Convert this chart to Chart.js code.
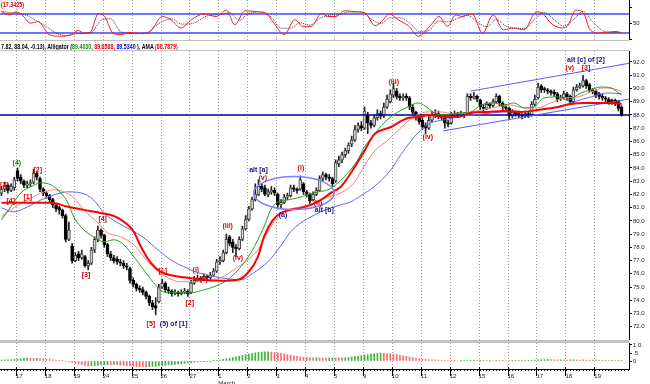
<!DOCTYPE html>
<html lang="en">
<head>
<meta charset="UTF-8">
<title>Alligator / AMA chart</title>
<script src="https://cdn.jsdelivr.net/npm/chart.js"></script>
<style>
  html, body { margin: 0; background: #fff; overflow: hidden; }
  #wrap { position: relative; width: 650px; height: 384px; overflow: hidden; font-family: "Liberation Sans", Arial, sans-serif; }
  canvas { position: absolute; left: 0; }
  .sep { position: absolute; left: 0; width: 629px; background: #c2c2c2; }
  .txt { position: absolute; left: 1px; font-weight: bold; font-size: 7px; line-height: 7px; white-space: nowrap; transform-origin: 0 0; }
</style>
</head>
<body>
<div id="wrap">
  <canvas id="stoch" width="650" height="40" style="top:0"></canvas>
  <div class="sep" style="top:40px;height:1px"></div>
  <div class="txt" id="stochTitle" style="top:1px;color:#e00000">(17.3425)</div>
  <div class="txt" id="legendRow" style="top:43px;color:#000">7.82, 88.04, -0.13), Alligator (<span style="color:#109010">89.4030,</span> <span style="color:#e00000">89.6588,</span> <span style="color:#0000d0">89.5340</span> ), AMA <span style="color:#e00000">(88.7879)</span></div>
  <div class="sep" style="top:50px;height:1px"></div>
  <canvas id="main" width="650" height="289" style="top:51px"></canvas>
  <div class="sep" style="top:340px;height:3px"></div>
  <canvas id="ao" width="650" height="41" style="top:343px"></canvas>
</div>

<script>
// time axis: 9 bars per session, first labelled session starts at bar 5
const dayLabels = ['17', '18', '19', '24', '25', '26', '27', '1', '2', '3', '4', '5', '9', '10', '11', '12', '15', '16', '17', '18', '19'];
const monthName = 'March';
const monthStartDay = 7;
const firstDayBar = 5;
const barsPerDay = 9;

const opens = [
  82.1, 82.4, 82.7, 82.3, 82.5, 83.8, 83.3, 83.0, 82.7, 82.8,
  82.9, 83.6, 83.2, 82.4, 82.1, 81.9, 81.6, 81.2, 81.0, 80.8,
  80.4, 78.6, 78.1, 77.0, 77.5, 77.2, 77.3, 76.6, 76.8, 77.8,
  78.6, 79.3, 78.9, 78.2, 77.5, 77.2, 77.1, 76.9, 76.8, 76.6,
  76.4, 75.5, 75.2, 74.9, 74.8, 74.6, 74.3, 73.8, 73.6, 73.9,
  75.0, 75.3, 74.8, 74.7, 74.5, 74.6, 74.5, 74.6, 74.7, 74.6,
  75.3, 75.5, 75.7, 75.6, 75.8, 75.7, 75.9, 76.2, 76.9, 77.0,
  77.6, 78.8, 78.4, 78.0, 77.9, 78.6, 79.4, 80.1, 80.9, 81.6,
  82.0, 82.6, 82.5, 82.0, 82.2, 82.3, 82.0, 81.2, 81.4, 81.8,
  81.9, 82.5, 82.4, 82.4, 82.8, 82.2, 82.0, 81.6, 82.0, 82.3,
  83.2, 83.5, 83.3, 83.2, 83.0, 84.3, 84.6, 85.0, 85.3, 85.8,
  86.1, 86.9, 87.2, 87.0, 88.0, 87.4, 87.2, 87.8, 88.1, 87.9,
  88.6, 89.0, 89.5, 89.8, 89.4, 89.3, 89.4, 89.3, 88.6, 88.2,
  87.8, 87.6, 87.2, 87.0, 87.6, 88.0, 88.1, 87.9, 87.9, 87.4,
  87.4, 88.0, 88.1, 88.0, 88.1, 88.1, 89.4, 89.3, 89.4, 89.1,
  88.6, 88.5, 88.8, 88.7, 89.0, 89.4, 88.9, 88.6, 88.5, 87.9,
  88.2, 88.1, 88.0, 87.9, 88.1, 88.0, 88.8, 89.3, 90.2, 90.0,
  89.9, 89.8, 89.7, 89.6, 89.2, 89.3, 89.6, 89.4, 89.0, 89.9,
  90.1, 90.2, 90.6, 90.3, 89.9, 89.8, 89.6, 89.4, 89.3, 89.2,
  89.1, 89.1, 89.0, 88.6
];
const highs = [
  82.6, 82.9, 82.8, 82.8, 83.3, 84.0, 83.5, 83.1, 83.0, 83.1,
  83.9, 83.7, 83.3, 82.5, 82.2, 82.0, 81.7, 81.3, 81.1, 80.9,
  80.5, 79.9, 78.3, 77.6, 77.7, 77.8, 77.4, 77.0, 78.0, 78.8,
  79.6, 79.4, 79.0, 78.3, 77.7, 77.4, 77.3, 77.1, 77.0, 76.8,
  76.5, 75.7, 75.3, 75.1, 75.0, 74.7, 74.4, 74.0, 74.2, 75.2,
  75.6, 75.4, 75.0, 74.8, 74.8, 74.7, 74.8, 74.9, 74.8, 75.5,
  75.8, 75.9, 75.8, 76.0, 75.9, 76.1, 76.4, 77.1, 77.3, 77.8,
  79.0, 78.9, 78.6, 78.2, 78.8, 79.6, 80.4, 81.1, 81.8, 82.8,
  83.1, 82.8, 82.7, 82.4, 82.6, 82.5, 82.1, 81.6, 82.0, 82.1,
  82.7, 82.7, 82.5, 83.4, 82.9, 82.3, 82.1, 82.2, 82.5, 83.4,
  83.7, 83.6, 83.5, 83.3, 84.6, 84.9, 85.2, 85.5, 85.9, 86.4,
  87.2, 87.4, 87.5, 88.6, 88.2, 87.6, 88.0, 88.4, 88.3, 88.9,
  89.5, 89.9, 90.4, 90.0, 89.6, 89.6, 89.6, 89.4, 88.8, 88.3,
  87.9, 87.8, 87.4, 87.9, 88.3, 88.4, 88.3, 88.0, 88.0, 87.6,
  88.2, 88.3, 88.2, 88.3, 88.2, 89.6, 89.6, 89.7, 89.5, 89.2,
  88.8, 89.0, 88.9, 89.2, 89.6, 89.5, 89.0, 88.8, 88.6, 88.4,
  88.3, 88.3, 88.1, 88.3, 88.2, 89.0, 89.5, 90.4, 90.3, 90.1,
  90.0, 89.9, 89.9, 89.7, 89.5, 89.8, 89.7, 89.5, 90.1, 90.3,
  90.4, 91.0, 90.7, 90.4, 90.0, 89.9, 89.7, 89.6, 89.4, 89.3,
  89.2, 89.2, 89.1, 88.7
];
const lows = [
  81.9, 82.2, 82.1, 82.2, 82.3, 83.0, 82.8, 82.5, 82.5, 82.6,
  82.8, 83.1, 82.2, 81.9, 81.7, 81.4, 81.0, 80.7, 80.5, 80.2,
  78.4, 78.5, 76.8, 76.9, 77.0, 77.1, 76.5, 76.3, 76.7, 77.6,
  78.4, 78.7, 78.0, 77.3, 77.0, 76.8, 76.7, 76.6, 76.4, 76.3,
  75.3, 75.0, 74.7, 74.6, 74.4, 74.1, 73.6, 73.3, 72.9, 73.8,
  74.9, 74.6, 74.5, 74.3, 74.4, 74.3, 74.4, 74.5, 74.3, 74.5,
  75.2, 75.4, 75.4, 75.5, 75.5, 75.6, 75.8, 76.1, 76.7, 76.9,
  77.5, 78.1, 77.6, 77.3, 77.8, 78.5, 79.3, 80.0, 80.8, 81.5,
  81.9, 82.2, 81.9, 81.8, 82.0, 81.9, 80.9, 81.0, 81.3, 81.6,
  81.8, 82.2, 82.1, 82.3, 82.0, 81.8, 81.3, 81.5, 81.9, 82.2,
  83.0, 83.1, 83.0, 82.6, 82.9, 84.1, 84.4, 84.8, 85.1, 85.6,
  86.0, 86.7, 86.8, 86.9, 86.6, 87.0, 87.1, 87.6, 87.7, 87.8,
  88.5, 88.9, 89.3, 89.2, 89.1, 89.1, 89.1, 88.4, 88.0, 87.6,
  87.3, 86.9, 86.6, 86.9, 87.5, 87.8, 87.7, 87.6, 87.0, 87.1,
  87.3, 87.9, 87.8, 87.9, 87.8, 88.0, 89.1, 89.2, 89.0, 88.4,
  88.3, 88.4, 88.5, 88.6, 88.9, 88.7, 88.4, 88.3, 87.7, 87.8,
  87.9, 87.8, 87.7, 87.8, 87.8, 87.9, 88.7, 89.2, 89.7, 89.7,
  89.6, 89.5, 89.4, 89.0, 89.1, 89.2, 89.1, 88.8, 88.9, 89.8,
  90.0, 90.1, 90.0, 89.7, 89.6, 89.3, 89.2, 89.1, 89.0, 88.8,
  88.8, 88.7, 88.3, 87.9
];
const closes = [
  82.4, 82.7, 82.3, 82.6, 83.1, 83.2, 83.0, 82.7, 82.8, 82.9,
  83.6, 83.3, 82.4, 82.1, 81.9, 81.6, 81.2, 80.9, 80.8, 80.4,
  78.6, 79.3, 77.0, 77.4, 77.2, 77.5, 76.6, 76.8, 77.8, 78.6,
  79.3, 78.9, 78.2, 77.5, 77.2, 77.0, 76.9, 76.8, 76.6, 76.5,
  75.5, 75.2, 74.9, 74.8, 74.6, 74.3, 73.8, 73.5, 73.4, 75.0,
  75.3, 74.8, 74.7, 74.5, 74.6, 74.5, 74.6, 74.7, 74.5, 75.3,
  75.5, 75.7, 75.6, 75.8, 75.7, 75.9, 76.2, 76.9, 77.0, 77.6,
  78.6, 78.3, 78.0, 77.9, 78.6, 79.4, 80.1, 80.9, 81.6, 82.0,
  82.6, 82.4, 82.0, 82.2, 82.3, 82.1, 81.2, 81.4, 81.8, 81.9,
  82.5, 82.4, 82.3, 83.1, 82.2, 82.0, 81.5, 82.0, 82.3, 83.2,
  83.5, 83.3, 83.2, 82.8, 84.4, 84.6, 85.0, 85.3, 85.7, 86.1,
  86.9, 87.2, 87.0, 88.3, 87.4, 87.2, 87.8, 88.1, 87.9, 88.6,
  89.2, 89.6, 90.0, 89.4, 89.3, 89.4, 89.3, 88.6, 88.2, 87.8,
  87.5, 87.1, 87.0, 87.6, 88.0, 88.1, 87.9, 87.8, 87.4, 87.3,
  88.0, 88.1, 88.0, 88.1, 88.0, 89.4, 89.3, 89.4, 89.2, 88.6,
  88.5, 88.8, 88.7, 89.0, 89.4, 88.9, 88.6, 88.5, 87.9, 88.2,
  88.1, 88.0, 87.9, 88.1, 88.0, 88.8, 89.2, 90.1, 89.9, 89.9,
  89.8, 89.7, 89.6, 89.2, 89.3, 89.6, 89.3, 89.0, 89.9, 90.1,
  90.2, 90.6, 90.2, 89.9, 89.8, 89.5, 89.4, 89.3, 89.2, 89.0,
  89.0, 88.9, 88.5, 88.0
];

// indicator lines, [bar, value]
const ama = [
  [0, 81.36], [10, 81.36], [15.4, 81.36], [20.7, 81.06], [25.6, 80.83], [30.9, 80.6], [36.2, 80.23],
  [41.2, 79.17], [43.4, 78.04], [46.5, 76.83], [49.6, 76.15], [53.6, 75.85], [58, 75.7], [62, 75.55],
  [68.3, 75.47], [73.6, 75.55], [76.7, 76.08], [79.8, 77.28], [81.7, 78.79], [84.5, 80.08], [87, 80.6],
  [90, 80.83], [93.2, 80.98], [96.3, 81.21], [99.4, 81.58], [102.5, 82.11], [105.6, 82.57], [108.7, 83.6],
  [112.8, 85.21], [115.9, 86.49], [121.2, 87.09], [126.5, 87.77], [129.6, 87.85], [133.6, 88.0],
  [137.7, 87.85], [142, 87.85], [146.1, 88.15], [151.4, 88.23], [156.3, 88.3], [161.6, 88.23],
  [167, 88.38], [173.2, 88.6], [177.2, 88.83], [181.3, 88.91], [186.5, 88.91], [190.6, 88.91], [193, 88.83]
];
const lips = [
  [0, 80.08], [2.9, 81.06], [6, 82.11], [9.1, 82.57], [12.3, 82.87], [15.4, 82.72], [18.5, 82.11],
  [20.7, 81.36], [22.5, 80.3], [25.6, 79.32], [28.7, 78.79], [31.9, 78.42], [35, 78.57], [38.1, 78.19],
  [41.2, 77.28], [44.3, 76.3], [47.4, 75.32], [50.5, 74.64], [54.9, 74.57], [58.9, 74.57], [63, 74.79],
  [66.1, 75.02], [70.4, 75.55], [74.5, 76.53], [77.6, 77.58], [79.8, 78.57], [81.7, 79.55], [83.8, 80.83],
  [86, 81.43], [89.1, 81.58], [92.2, 81.74], [95.3, 81.96], [98.5, 82.19], [101.6, 82.34], [104.7, 82.87],
  [107.8, 83.62], [110.9, 84.6], [112.8, 85.51], [115.9, 86.49], [119, 87.4], [123.4, 88.23], [126.5, 88.6],
  [129.6, 88.91], [132.7, 88.53], [134.6, 88.15], [137.7, 88.0], [142, 88.15], [146.1, 88.23], [149.2, 88.75],
  [153.2, 88.91], [156.3, 88.75], [159.5, 88.91], [162.6, 88.53], [165.7, 88.6], [168.8, 89.28],
  [173.2, 89.36], [176.3, 89.13], [180.3, 89.66], [183.4, 89.89], [186.5, 90.11], [189.7, 90.04], [193, 89.5]
];
const teeth = [
  [0, 80.3], [3.8, 80.98], [8.2, 81.58], [12.3, 82.11], [16.3, 82.34], [19.4, 82.19], [22.5, 81.74],
  [25.6, 80.83], [30, 79.85], [33.1, 79.09], [37.1, 78.79], [41.2, 78.19], [44.3, 77.28], [47.4, 76.45],
  [51.8, 75.7], [55.8, 75.4], [59.9, 75.4], [64.2, 75.55], [68.3, 75.7], [72.3, 76.3], [76.7, 77.06],
  [79.8, 77.81], [82.9, 79.17], [86, 80.3], [89.1, 80.83], [93.2, 81.06], [97.2, 81.36], [101.6, 81.81],
  [105.6, 82.11], [109.7, 82.87], [111.8, 83.7], [115.9, 85.21], [120.3, 86.11], [124.3, 87.02],
  [128.3, 87.85], [132.7, 88.23], [136.7, 88.23], [140.8, 88.08], [145.1, 88.15], [149.2, 88.38],
  [154.5, 88.6], [158.5, 88.75], [162.6, 88.53], [167, 88.53], [171, 88.91], [175, 89.28], [179.4, 89.36],
  [183.4, 89.74], [187.5, 90.04], [191.8, 89.89], [193, 89.75]
];
const jaw = [
  [0, 80.98], [3.8, 80.68], [8.2, 81.06], [12.3, 81.58], [16.3, 81.96], [20.7, 82.19], [24.7, 82.11],
  [28.7, 81.58], [31.9, 80.6], [36.2, 79.85], [40.3, 79.32], [44.3, 78.72], [48.7, 77.81], [52.7, 77.06],
  [56.8, 76.53], [61.1, 76.08], [65.2, 75.85], [68.3, 75.7], [74.5, 75.55], [78.5, 76.08], [82.9, 76.91],
  [86.9, 78.11], [90, 79.17], [93.2, 79.85], [96.3, 80.3], [99.4, 80.68], [102.5, 80.98], [105.6, 81.21],
  [108.7, 81.43], [111.8, 81.89], [115.9, 82.57], [121.2, 83.85], [124.3, 85.0], [129.6, 86.64],
  [133.6, 87.4], [137.7, 87.62], [142, 87.85], [147, 88.0], [152.3, 88.15], [157.6, 88.23], [162.6, 88.23],
  [167, 88.38], [173.2, 88.6], [178.1, 88.98], [183.4, 89.36], [188.7, 89.66], [193, 89.6]
];

// drawn objects on the price panel
const supportLevel = 88.0;
const channelUpper = [[146, 89.8], [195.3, 91.9]];
const channelLower = [[137.5, 86.8], [195.3, 89.2]];
const ellipseCenter = [91, 82.1];
const ellipseRadius = [12.5, 1.25];
const waveLabels = [
  { t: '[3]', i: 0.9, p: 82.72, k: 'wave' },
  { t: '[4]', i: 2.9, p: 81.5, k: 'wave' },
  { t: '(4)', i: 4.8, p: 84.38, k: 'major' },
  { t: '[1]', i: 8.2, p: 81.8, k: 'wave' },
  { t: '[2]', i: 11.3, p: 83.85, k: 'wave' },
  { t: '[3]', i: 26.3, p: 75.9, k: 'wave' },
  { t: '[4]', i: 31.5, p: 80.15, k: 'wave' },
  { t: '[5]', i: 46.5, p: 72.2, k: 'wave' },
  { t: '(5) of [1]', i: 53.6, p: 72.2, k: 'alt' },
  { t: '[1]', i: 50.2, p: 76.2, k: 'wave' },
  { t: '[2]', i: 58.6, p: 73.8, k: 'wave' },
  { t: '(i)', i: 60.5, p: 76.3, k: 'wave' },
  { t: '(ii)', i: 63, p: 75.6, k: 'wave' },
  { t: '(iii)', i: 70.4, p: 79.6, k: 'wave' },
  { t: '(iv)', i: 73.6, p: 77.2, k: 'wave' },
  { t: 'alt [a]', i: 80, p: 83.8, k: 'alt' },
  { t: '(v)', i: 81.3, p: 83.2, k: 'wave' },
  { t: '(a)', i: 87.6, p: 80.45, k: 'alt' },
  { t: '(i)', i: 93.2, p: 84.0, k: 'wave' },
  { t: '(ii)', i: 98.5, p: 81.36, k: 'wave' },
  { t: 'alt [b]', i: 100.5, p: 80.85, k: 'alt' },
  { t: '(iii)', i: 122.1, p: 90.5, k: 'wave' },
  { t: '(iv)', i: 132.7, p: 86.3, k: 'wave' },
  { t: 'alt [c] of [2]', i: 181.9, p: 92.15, k: 'alt' },
  { t: '(v)', i: 176.9, p: 91.55, k: 'wave' },
  { t: '[3]', i: 181.9, p: 91.55, k: 'wave' }
];
const priceTicks = [
  72.0, 72.5, 73.0, 73.5, 74.0, 74.5, 75.0, 75.5, 76.0, 76.5, 77.0, 77.5, 78.0, 78.5,
  79.0, 79.5, 80.0, 80.5, 81.0, 81.5, 82.0, 82.5, 83.0, 83.5, 84.0, 84.5, 85.0, 85.5,
  86.0, 86.5, 87.0, 87.5, 88.0, 88.5, 89.0, 89.5, 90.0, 90.5, 91.0, 91.5, 92.0
];

// stochastic panel
const stochK = [
  [0, 87], [2.6, 77], [4.5, 87], [6.4, 77], [9, 51], [11.6, 56], [12.9, 41], [14.8, 15], [18, 10],
  [21.9, 15], [23.8, 28], [25.7, 20], [27.6, 22], [30.2, 82], [32.1, 72], [34.7, 20], [37.3, 15],
  [39.8, 22], [43.7, 18], [46.3, 25], [50.1, 72], [52.7, 62], [55.9, 36], [59.1, 62], [63, 80],
  [66.8, 72], [70, 92], [72.6, 46], [75.8, 90], [79.7, 87], [82.3, 82], [84.8, 51], [88, 15],
  [91.3, 62], [93.8, 41], [96.4, 41], [99.6, 82], [101.5, 72], [104.1, 72], [106.7, 90], [110.5, 87],
  [113.1, 84], [116.3, 43], [118.3, 56], [120.8, 80], [123.4, 62], [126.6, 43], [129.8, 10],
  [133.7, 46], [136.2, 72], [138.8, 41], [141.4, 77], [143.3, 72], [146.5, 80], [149.7, 20], [153, 77],
  [156.2, 30], [159.4, 36], [162.6, 30], [166.5, 87], [168.4, 82], [171, 51], [174.2, 36], [176.1, 41],
  [178.7, 92], [181.2, 82], [183.2, 30], [186.4, 20], [188.9, 23], [191.5, 25], [192.8, 20]
];
const stochD = [
  [0, 88], [2, 85], [5, 82], [8, 75], [11, 58], [14, 40], [17, 20], [20, 12], [24, 18], [28, 22],
  [31, 60], [34, 65], [37, 25], [41, 18], [45, 20], [49, 50], [53, 65], [56, 48], [60, 52], [64, 74],
  [68, 78], [71, 84], [74, 60], [77, 82], [81, 86], [84, 70], [87, 35], [90, 35], [93, 52], [96, 45],
  [99, 65], [102, 76], [105, 78], [108, 86], [112, 86], [115, 65], [118, 50], [121, 68], [124, 68],
  [127, 52], [130, 25], [133, 28], [136, 58], [139, 55], [142, 66], [145, 76], [148, 55], [151, 40],
  [154, 62], [157, 42], [160, 35], [163, 35], [166, 65], [169, 85], [172, 62], [175, 42], [178, 62],
  [181, 88], [184, 55], [187, 28], [190, 22], [193, 22]
];
const stochLevels = [20, 80];
const stochTicks = [0, 50, 100];

// awesome oscillator histogram, one value per bar
const aoValues = [
  0.06, 0.07, 0.07, 0.08, 0.10, 0.12, 0.14, 0.16, 0.18, 0.17,
  0.16, 0.16, 0.15, 0.14, 0.12, 0.10, 0.08, 0.06, 0.04, 0.02,
  -0.02, -0.06, -0.10, -0.14, -0.18, -0.22, -0.27, -0.31, -0.30, -0.29,
  -0.27, -0.25, -0.24, -0.23, -0.24, -0.22, -0.23, -0.25, -0.27, -0.29,
  -0.31, -0.33, -0.35, -0.36, -0.37, -0.38, -0.36, -0.34, -0.33, -0.31,
  -0.29, -0.27, -0.25, -0.23, -0.21, -0.19, -0.17, -0.15, -0.12, -0.10,
  -0.08, -0.06, -0.05, -0.04, -0.02, -0.01, 0.01, 0.03, 0.06, 0.10,
  0.14, 0.18, 0.22, 0.26, 0.30, 0.35, 0.40, 0.44, 0.48, 0.51,
  0.54, 0.56, 0.57, 0.58, 0.56, 0.54, 0.51, 0.48, 0.44, 0.40,
  0.36, 0.32, 0.29, 0.26, 0.24, 0.22, 0.21, 0.20, 0.21, 0.20,
  0.19, 0.18, 0.19, 0.20, 0.19, 0.18, 0.19, 0.20, 0.22, 0.25,
  0.28, 0.31, 0.34, 0.37, 0.40, 0.43, 0.46, 0.48, 0.50, 0.49,
  0.47, 0.45, 0.43, 0.40, 0.37, 0.33, 0.29, 0.25, 0.21, 0.17,
  0.14, 0.12, 0.10, 0.09, 0.08, 0.07, 0.06, 0.05, 0.04, 0.03,
  0.02, 0.01, 0.00, 0.01, 0.02, 0.03, 0.04, 0.05, 0.04, 0.05,
  0.04, 0.03, 0.04, 0.03, 0.04, 0.03, 0.02, 0.03, 0.02, 0.01,
  0.02, 0.01, 0.02, 0.03, 0.04, 0.05, 0.06, 0.07, 0.08, 0.09,
  0.10, 0.09, 0.08, 0.07, 0.08, 0.07, 0.06, 0.07, 0.08, 0.07,
  0.06, 0.07, 0.06, 0.05, 0.06, 0.05, 0.04, 0.05, 0.04, 0.03,
  0.04, 0.03, 0.02, 0.02
];
const aoTicks = [0, 0.5, 1];

// ---------------------------------------------------------------

Chart.defaults.font.family = '"Liberation Sans", Arial, sans-serif';
Chart.defaults.font.size = 6;
Chart.defaults.color = '#222';
Chart.defaults.animation = false;
Chart.defaults.plugins.legend.display = false;
Chart.defaults.plugins.tooltip.enabled = false;

const X_MIN = -0.45, X_MAX = 195.3;
const dayStart = d => firstDayBar - 0.5 + d * barsPerDay;
const pts = arr => arr.map(([x, y]) => ({ x, y }));

function fitText(id, w) {
  const el = document.getElementById(id);
  el.style.transform = 'scaleX(' + (w / el.offsetWidth) + ')';
}
fitText('legendRow', 177);
fitText('stochTitle', 23);

function xAxis(visible) {
  return {
    type: 'linear', min: X_MIN, max: X_MAX, offset: false, display: visible,
    afterBuildTicks: s => {
      const t = [];
      for (let k = 0; k < 196; k++) t.push({ value: k - 0.5 });
      s.ticks = t;
    },
    afterFit: s => {
      s.paddingLeft = 0;
      s.paddingRight = 0;
      if (visible) s.height = 15;
    },
    grid: { drawOnChartArea: false, tickLength: 2, color: '#000', tickColor: '#000' },
    border: { display: true, color: '#000' },
    ticks: {
      autoSkip: false, maxRotation: 0, minRotation: 0, align: 'start', padding: 2,
      font: { size: 6 }, color: '#222',
      callback: v => {
        const d = Math.round((v - dayStart(0)) / barsPerDay);
        if (d < 0 || d >= dayLabels.length || Math.abs(v - dayStart(d)) > 0.01) return '';
        return d === monthStartDay ? [dayLabels[d], monthName] : dayLabels[d];
      }
    }
  };
}

function yAxis(min, max, ticks, fmt) {
  return {
    position: 'right', min, max,
    afterBuildTicks: s => { s.ticks = ticks.map(v => ({ value: v })); },
    afterFit: s => { s.width = 21; s.paddingTop = 0; s.paddingBottom = 0; },
    grid: { drawOnChartArea: false, tickLength: 3, tickColor: '#000' },
    border: { display: true, color: '#000' },
    ticks: { padding: 1, font: { size: 6 }, color: '#222', callback: fmt }
  };
}

const dayLines = {
  id: 'dayLines',
  beforeDatasetsDraw(chart) {
    const { ctx, chartArea: a, scales: { x } } = chart;
    ctx.save();
    ctx.strokeStyle = '#a0a0a0';
    ctx.lineWidth = 1;
    ctx.setLineDash([1, 2]);
    dayLabels.forEach((_, d) => {
      const px = Math.round(x.getPixelForValue(dayStart(d))) + 0.5;
      ctx.beginPath();
      ctx.moveTo(px, a.top);
      ctx.lineTo(px, a.bottom);
      ctx.stroke();
    });
    ctx.restore();
  }
};

const labelColors = { wave: '#e00000', major: '#108010', alt: '#101090' };
const priceMarks = {
  id: 'priceMarks',
  afterDatasetsDraw(chart) {
    const { ctx, scales: { x, y } } = chart;
    ctx.save();
    const cx = x.getPixelForValue(ellipseCenter[0]);
    const cy = y.getPixelForValue(ellipseCenter[1]);
    const rx = x.getPixelForValue(ellipseCenter[0] + ellipseRadius[0]) - cx;
    const ry = cy - y.getPixelForValue(ellipseCenter[1] + ellipseRadius[1]);
    ctx.strokeStyle = '#8080ff';
    ctx.lineWidth = 1.5;
    ctx.beginPath();
    ctx.ellipse(cx, cy, rx, ry, 0, 0, Math.PI * 2);
    ctx.stroke();
    ctx.font = 'bold 7px "Liberation Sans", Arial, sans-serif';
    ctx.textAlign = 'center';
    ctx.textBaseline = 'middle';
    waveLabels.forEach(l => {
      ctx.fillStyle = labelColors[l.k];
      ctx.fillText(l.t, x.getPixelForValue(l.i), y.getPixelForValue(l.p));
    });
    ctx.restore();
  }
};

const majorTicks = {
  id: 'majorTicks',
  afterDraw(chart) {
    const { ctx, chartArea: a, scales: { x } } = chart;
    ctx.save();
    ctx.strokeStyle = '#000';
    ctx.lineWidth = 1;
    dayLabels.forEach((_, d) => {
      const px = Math.round(x.getPixelForValue(dayStart(d))) + 0.5;
      ctx.beginPath();
      ctx.moveTo(px, a.bottom - 2);
      ctx.lineTo(px, a.bottom + 7);
      ctx.stroke();
    });
    ctx.restore();
  }
};

const baseOpts = { responsive: false, maintainAspectRatio: false, devicePixelRatio: 1, layout: { padding: 0 } };

// stochastic
new Chart(document.getElementById('stoch'), {
  type: 'line',
  data: {
    datasets: [
      { data: pts(stochK), borderColor: '#ff1a1a', borderWidth: 1, pointRadius: 0, cubicInterpolationMode: 'monotone', order: 1 },
      { data: pts(stochD), borderColor: '#333', borderWidth: 1, borderDash: [1, 1], pointRadius: 0, cubicInterpolationMode: 'monotone', order: 2 },
      ...stochLevels.map(v => ({
        data: [{ x: X_MIN, y: v }, { x: X_MAX, y: v }], borderColor: '#7272ff', borderWidth: 2, pointRadius: 0, order: 3
      }))
    ]
  },
  options: {
    ...baseOpts,
    scales: {
      x: xAxis(false),
      y: yAxis(-2, 124, stochTicks, v => (v === 50 ? '50' : ''))
    }
  },
  plugins: [dayLines]
});

// price panel
const upColor = '#d4d4d4', downColor = '#000';
new Chart(document.getElementById('main'), {
  type: 'bar',
  data: {
    datasets: [
      { type: 'line', data: pts(ama), borderColor: '#ff0000', borderWidth: 2, pointRadius: 0, cubicInterpolationMode: 'monotone', order: 1 },
      { type: 'line', data: pts(lips), borderColor: '#22a022', borderWidth: 1, pointRadius: 0, cubicInterpolationMode: 'monotone', order: 2 },
      { type: 'line', data: pts(teeth), borderColor: '#ff7c7c', borderWidth: 1, pointRadius: 0, cubicInterpolationMode: 'monotone', order: 2 },
      { type: 'line', data: pts(jaw), borderColor: '#6464ff', borderWidth: 1, pointRadius: 0, cubicInterpolationMode: 'monotone', order: 2 },
      { type: 'line', data: pts(channelUpper), borderColor: '#5a5aff', borderWidth: 1, pointRadius: 0, order: 3 },
      { type: 'line', data: pts(channelLower), borderColor: '#5a5aff', borderWidth: 1, pointRadius: 0, order: 3 },
      { type: 'line', data: [{ x: X_MIN, y: supportLevel }, { x: X_MAX, y: supportLevel }], borderColor: '#00008c', borderWidth: 1.5, pointRadius: 0, order: 3 },
      {
        data: opens.map((o, i) => ({ x: i, y: [o, closes[i]] })),
        grouped: false, barThickness: 3, borderWidth: 1, borderSkipped: false,
        backgroundColor: c => (closes[c.dataIndex] >= opens[c.dataIndex] ? upColor : downColor),
        borderColor: c => (closes[c.dataIndex] >= opens[c.dataIndex] ? '#444' : downColor),
        order: 5
      },
      {
        data: lows.map((l, i) => ({ x: i, y: [l, highs[i]] })),
        grouped: false, barThickness: 1, backgroundColor: '#222', order: 6
      }
    ]
  },
  options: {
    ...baseOpts,
    scales: {
      x: xAxis(false),
      y: yAxis(71.0, 92.83, priceTicks, v => v.toFixed(1))
    }
  },
  plugins: [dayLines, priceMarks]
});

// oscillator + time axis
new Chart(document.getElementById('ao'), {
  type: 'bar',
  data: {
    datasets: [{
      data: aoValues.map((v, i) => ({ x: i, y: v })),
      barThickness: 1,
      backgroundColor: c => (c.dataIndex > 0 && aoValues[c.dataIndex] < aoValues[c.dataIndex - 1] ? '#ff6a6a' : '#3cb43c')
    }]
  },
  options: {
    ...baseOpts,
    scales: {
      x: xAxis(true),
      y: yAxis(-0.5, 1.125, aoTicks, v => (v === 1 ? '1.0' : v === 0.5 ? '.5' : '0'))
    }
  },
  plugins: [dayLines, majorTicks]
});
</script>
</body>
</html>
